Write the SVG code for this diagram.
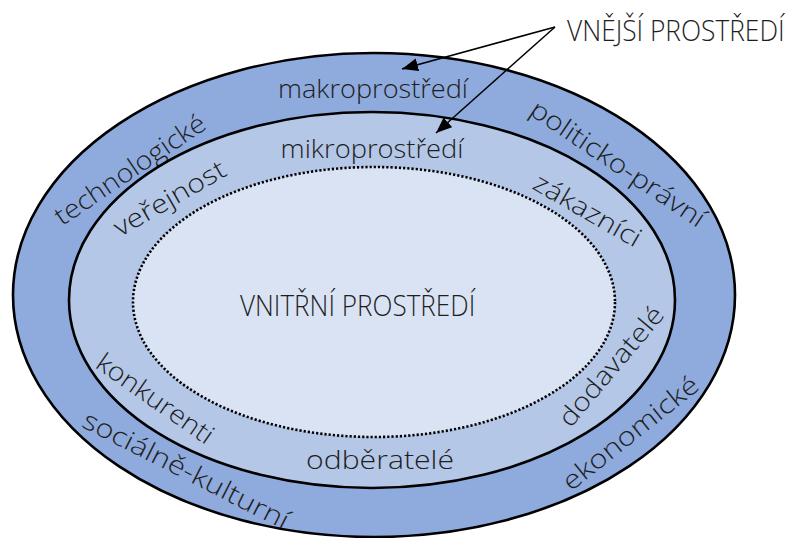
<svg xmlns="http://www.w3.org/2000/svg" width="794" height="538" viewBox="0 0 794 538">
  <style>
    .ring { stroke: #000; stroke-width: 2.6; }
    .lbl { font-family: "Open Sans", "Noto Sans", "DejaVu Sans", sans-serif; font-size: 26px; font-weight: 350; fill: #1e1e1e; text-anchor: middle; }
    .caps { font-family: "Open Sans", "Noto Sans", "DejaVu Sans", sans-serif; font-size: 30px; font-weight: 350; fill: #1e1e1e; }
    .conn { stroke: #000; stroke-width: 1.5; fill: none; }
  </style>
  <defs>
    <marker id="head" markerUnits="userSpaceOnUse" markerWidth="18" markerHeight="14" refX="16" refY="6.5" orient="auto">
      <path d="M0,0 L16,6.5 L0,13 Z" fill="#000"/>
    </marker>
  </defs>

  <rect width="794" height="538" fill="#fff"/>

  <!-- macro environment ring -->
  <g id="makroprostredi">
    <ellipse class="ring" cx="374" cy="295" rx="361" ry="242" fill="#8FAADC"/>
    <text class="lbl" x="373" y="98" textLength="190" lengthAdjust="spacingAndGlyphs">makroprostředí</text>
    <text class="lbl" transform="translate(135,177) rotate(-34)" textLength="176" lengthAdjust="spacingAndGlyphs">technologické</text>
    <text class="lbl" transform="translate(613,171) rotate(34)" textLength="205" lengthAdjust="spacingAndGlyphs">politicko-právní</text>
    <text class="lbl" transform="translate(182,478) rotate(27)" textLength="228" lengthAdjust="spacingAndGlyphs">sociálně-kulturní</text>
    <text class="lbl" transform="translate(636,440) rotate(-38.5)" textLength="166" lengthAdjust="spacingAndGlyphs">ekonomické</text>
  </g>

  <!-- micro environment ring -->
  <g id="mikroprostredi">
    <ellipse class="ring" cx="372" cy="300" rx="303" ry="188" fill="#B4C7E7"/>
    <text class="lbl" x="372" y="158" textLength="183" lengthAdjust="spacingAndGlyphs">mikroprostředí</text>
    <text class="lbl" transform="translate(174,206) rotate(-30)" textLength="125" lengthAdjust="spacingAndGlyphs">veřejnost</text>
    <text class="lbl" transform="translate(583,218) rotate(30)" textLength="120" lengthAdjust="spacingAndGlyphs">zákazníci</text>
    <text class="lbl" transform="translate(150,406) rotate(35)" textLength="137" lengthAdjust="spacingAndGlyphs">konkurenti</text>
    <text class="lbl" transform="translate(618,372) rotate(-50)" textLength="148" lengthAdjust="spacingAndGlyphs">dodavatelé</text>
    <text class="lbl" x="380" y="469" textLength="148" lengthAdjust="spacingAndGlyphs">odběratelé</text>
  </g>

  <!-- internal environment -->
  <g id="vnitrni">
    <ellipse cx="374" cy="302" rx="241" ry="135" fill="#DAE3F3" stroke="#000" stroke-width="2.6" stroke-dasharray="2.2 2"/>
    <text class="caps" transform="translate(240,316) scale(0.8,1)" textLength="294" lengthAdjust="spacingAndGlyphs">VNITŘNÍ PROSTŘEDÍ</text>
  </g>

  <!-- external environment label -->
  <g id="vnejsi">
    <text class="caps" transform="translate(567,41) scale(0.8,1)" textLength="272" lengthAdjust="spacingAndGlyphs">VNĚJŠÍ PROSTŘEDÍ</text>
  </g>

  <!-- pointers from the label -->
  <g id="connectors">
    <line class="conn" x1="555" y1="27" x2="402" y2="69" marker-end="url(#head)"/>
    <line class="conn" x1="555" y1="27" x2="436" y2="133" marker-end="url(#head)"/>
  </g>
</svg>
